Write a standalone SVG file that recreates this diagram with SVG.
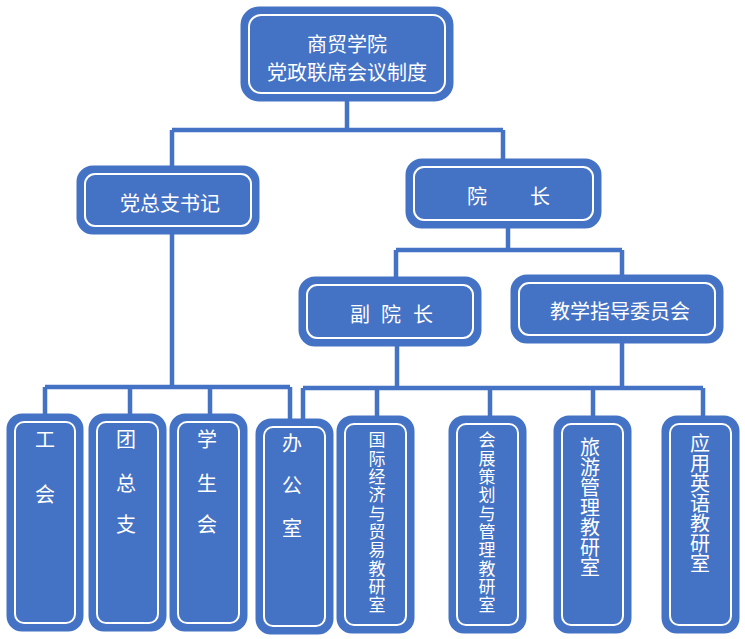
<svg xmlns="http://www.w3.org/2000/svg" width="745" height="639" viewBox="0 0 745 639">
<style>
.outer{fill:#4472C4;stroke:#4472C4;stroke-width:5}
.inner{fill:none;stroke:#ffffff;stroke-width:2}
.lbl{fill:#ffffff;font-family:"Noto Sans CJK SC","Liberation Sans",sans-serif;font-size:20px;text-anchor:middle;dominant-baseline:central}
.vt{fill:#ffffff;font-family:"Noto Sans CJK SC","Liberation Sans",sans-serif;font-size:20px;text-anchor:middle;writing-mode:vertical-rl;text-orientation:upright}
.sm{font-size:17px;letter-spacing:1.3px}
.ln{fill:none;stroke:#4472C4;stroke-width:4.5}
</style>
<rect width="745" height="639" fill="#ffffff"/>
<g id="connectors">
<path class="ln" d="M347 100V130M172 130H503M172 130V167M503 130V160"/>
<path class="ln" d="M508 227V250M396 250H622M396 250V278M622 250V276"/>
<path class="ln" d="M172 233V387M45 387H290M45 387V415M130 387V415M210 387V415M290 387V420"/>
<path class="ln" d="M397 345V388M622 342V388M303 388H703M303 388V420M377 388V417M490 388V417M593 388V417M703 388V417"/>
</g>
<g id="n_top">
<rect class="outer" x="243" y="9" width="208" height="90" rx="16"/>
<rect class="inner" x="249" y="15" width="196" height="78" rx="12"/>
<text class="lbl" x="347" y="43">商贸学院</text>
<text class="lbl" x="347" y="71">党政联席会议制度</text>
</g>
<g id="n_dzz">
<rect class="outer" x="79" y="168" width="178" height="64" rx="14"/>
<rect class="inner" x="85" y="174" width="166" height="52" rx="10"/>
<text class="lbl" x="170" y="202">党总支书记</text>
</g>
<g id="n_yz">
<rect class="outer" x="408" y="161" width="191" height="65" rx="14"/>
<rect class="inner" x="414" y="167" width="179" height="53" rx="10"/>
<text class="lbl" x="477" y="195">院</text>
<text class="lbl" x="540" y="195">长</text>
</g>
<g id="n_fyz">
<rect class="outer" x="301" y="279" width="178" height="65" rx="14"/>
<rect class="inner" x="307" y="285" width="166" height="53" rx="10"/>
<text class="lbl" x="360" y="313">副</text>
<text class="lbl" x="391" y="313">院</text>
<text class="lbl" x="423" y="313">长</text>
</g>
<g id="n_jx">
<rect class="outer" x="513" y="277" width="208" height="64" rx="14"/>
<rect class="inner" x="519" y="283" width="196" height="52" rx="10"/>
<text class="lbl" x="620" y="310">教学指导委员会</text>
</g>
<g id="n_gh">
<rect class="outer" x="9" y="416" width="72" height="213" rx="13"/>
<rect class="inner" x="15" y="422" width="60" height="201" rx="9"/>
<text class="lbl" x="45" y="438">工</text>
<text class="lbl" x="45" y="493">会</text>
</g>
<g id="n_tzz">
<rect class="outer" x="91" y="416" width="73" height="213" rx="13"/>
<rect class="inner" x="97" y="422" width="61" height="201" rx="9"/>
<text class="lbl" x="126" y="438">团</text>
<text class="lbl" x="126" y="482">总</text>
<text class="lbl" x="126" y="523">支</text>
</g>
<g id="n_xsh">
<rect class="outer" x="172" y="416" width="73" height="213" rx="13"/>
<rect class="inner" x="178" y="422" width="61" height="201" rx="9"/>
<text class="lbl" x="207" y="438">学</text>
<text class="lbl" x="207" y="482">生</text>
<text class="lbl" x="207" y="523">会</text>
</g>
<g id="n_bgs">
<rect class="outer" x="258" y="421" width="73" height="211" rx="13"/>
<rect class="inner" x="264" y="427" width="61" height="199" rx="9"/>
<text class="lbl" x="292" y="442">办</text>
<text class="lbl" x="292" y="484">公</text>
<text class="lbl" x="292" y="527">室</text>
</g>
<g id="n_gj">
<rect class="outer" x="339" y="418" width="73" height="213" rx="13"/>
<rect class="inner" x="345" y="424" width="61" height="201" rx="9"/>
<text class="vt sm" x="377" y="523">国际经济与贸易教研室</text>
</g>
<g id="n_hz">
<rect class="outer" x="451" y="418" width="73" height="213" rx="13"/>
<rect class="inner" x="457" y="424" width="61" height="201" rx="9"/>
<text class="vt sm" x="487" y="523">会展策划与管理教研室</text>
</g>
<g id="n_ly">
<rect class="outer" x="556" y="418" width="73" height="213" rx="13"/>
<rect class="inner" x="562" y="424" width="61" height="201" rx="9"/>
<text class="vt" x="590" y="507">旅游管理教研室</text>
</g>
<g id="n_yy">
<rect class="outer" x="664" y="418" width="73" height="213" rx="13"/>
<rect class="inner" x="670" y="424" width="61" height="201" rx="9"/>
<text class="vt" x="700" y="503">应用英语教研室</text>
</g>
</svg>
